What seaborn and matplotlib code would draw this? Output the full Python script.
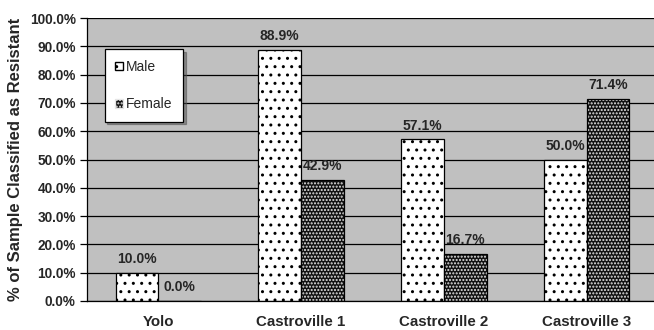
import pandas as pd
import seaborn as sns
import matplotlib.pyplot as plt
from matplotlib.patches import Patch, Rectangle
from matplotlib.ticker import PercentFormatter, FixedLocator

sites = ['Yolo', 'Castroville 1', 'Castroville 2', 'Castroville 3']
male = [10.0, 88.9, 57.1, 50.0]
female = [0.0, 42.9, 16.7, 71.4]
sexes = ['Male', 'Female']

sns.set_style('white')
plt.rcParams['font.family'] = ['Liberation Sans', 'DejaVu Sans']
plt.rcParams['hatch.linewidth'] = 1.0


def main():
    df = pd.DataFrame({
        'site': sites * 2,
        'pct': male + female,
        'sex': ['Male'] * len(sites) + ['Female'] * len(sites),
    })

    fig = plt.figure(figsize=(6.54, 3.30), dpi=100)
    ax = fig.add_axes([0.133, 0.088, 0.873, 0.857])
    ax.set_facecolor('#c0c0c0')

    sns.barplot(data=df, x='site', y='pct', hue='sex', hue_order=sexes,
                palette=['white', '#111111'], width=0.6, edgecolor='black',
                linewidth=0.9, legend=False, ax=ax)

    # patrones: puntos negros en Male, puntos claros sobre negro en Female
    male_bars, female_bars = ax.containers[0], ax.containers[1]
    for p in male_bars:
        p.set_hatch('..')
    for p in female_bars:
        p.set_hatch('.....')
        p.set_edgecolor('#e6e6e6')
        p.set_linewidth(0)
        ax.add_patch(Rectangle(p.get_xy(), p.get_width(), p.get_height(),
                               fill=False, edgecolor='black', linewidth=0.9, zorder=p.get_zorder() + 0.1))

    for cont, vals in [(male_bars, male), (female_bars, female)]:
        ax.bar_label(cont, labels=[f'{v:.1f}%' for v in vals], padding=5,
                     fontsize=10, fontweight='bold')

    ax.set_ylim(0, 100)
    ax.set_xlim(-0.5, len(sites) - 0.5)
    ax.yaxis.set_major_locator(FixedLocator(range(0, 101, 10)))
    ax.yaxis.set_major_formatter(PercentFormatter(xmax=100, decimals=1))
    ax.yaxis.grid(True, color='black', linewidth=0.9)
    ax.set_axisbelow(True)

    ax.xaxis.set_minor_locator(FixedLocator([i - 0.5 for i in range(len(sites) + 1)]))
    ax.tick_params(axis='x', which='major', length=0, pad=10, labelsize=10.8)
    ax.tick_params(axis='x', which='minor', length=5, direction='out', color='black', width=0.9)
    ax.tick_params(axis='y', length=5, direction='out', color='black', width=0.9, labelsize=9.8, pad=3)
    ax.tick_params(left=True, bottom=True)
    for lab in ax.get_xticklabels() + ax.get_yticklabels():
        lab.set_fontweight('bold')

    for s in ['top', 'right']:
        ax.spines[s].set_visible(False)
    for s in ['left', 'bottom']:
        ax.spines[s].set_color('black')
        ax.spines[s].set_linewidth(0.9)

    ax.set_xlabel('')
    ax.set_ylabel('% of Sample Classified as Resistant', fontsize=12, fontweight='bold', labelpad=5)

    handles = [
        Patch(facecolor='white', edgecolor='black', hatch='..', label='Male'),
        Patch(facecolor='#111111', edgecolor='#e6e6e6', hatch='.....', label='Female'),
    ]
    leg = ax.legend(handles=handles, loc='upper left', bbox_to_anchor=(0.031, 0.89),
                    frameon=True, fancybox=False, shadow=True, edgecolor='black',
                    facecolor='white', framealpha=1, fontsize=10,
                    handlelength=0.55, handleheight=0.55, handletextpad=0.25,
                    labelspacing=1.7, borderpad=0.75, borderaxespad=0)
    leg.get_frame().set_linewidth(0.9)

    fig.savefig('out.png', dpi=100)


if __name__ == '__main__':
    main()
